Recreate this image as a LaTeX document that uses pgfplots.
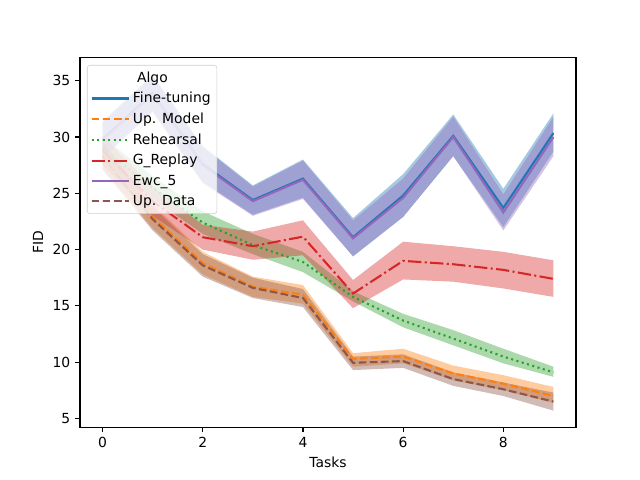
\documentclass[border=0pt]{standalone}
\usepackage{fontspec}
\setmainfont{DejaVu Sans}
\usepackage{pgfplots}
\pgfplotsset{compat=1.18}
\usepackage{pgfplotstable}
\usepgfplotslibrary{fillbetween}

\definecolor{c0}{HTML}{1F77B4}
\definecolor{c1}{HTML}{FF7F0E}
\definecolor{c2}{HTML}{2CA02C}
\definecolor{c3}{HTML}{D62728}
\definecolor{c4}{HTML}{9467BD}
\definecolor{c5}{HTML}{8C564B}

\pgfplotstableread{
x m lo hi
0 29.8 28.2 31.4
1 33.9 32.3 35.5
2 27.6 26.0 29.2
3 24.4 23.1 25.7
4 26.3 24.6 28.0
5 21.1 19.4 22.8
6 24.8 22.9 26.7
7 30.1 28.3 32.0
8 23.7 22.0 25.4
9 30.35 28.7 32.1
}\ft

\pgfplotstableread{
x m lo hi
0 28.4 27.2 29.6
1 22.9 21.9 24.0
2 18.8 17.8 19.8
3 16.7 15.8 17.6
4 16.0 15.2 16.85
5 10.3 9.6 10.8
6 10.5 9.9 11.2
7 9.0 8.4 9.7
8 8.1 7.5 8.85
9 7.0 6.4 7.8
}\um

\pgfplotstableread{
x m lo hi
0 29.0 28.0 30.0
1 25.5 24.5 26.5
2 22.4 21.4 23.4
3 20.4 19.6 21.4
4 18.9 18.0 19.8
5 15.8 15.4 16.3
6 13.7 13.1 14.3
7 12.1 11.5 12.85
8 10.5 9.9 11.2
9 9.1 8.7 9.6
}\rh

\pgfplotstableread{
x m lo hi
0 28.8 27.5 30.1
1 24.3 23.0 25.6
2 21.1 20.0 22.2
3 20.3 19.1 21.6
4 21.15 19.5 22.6
5 16.1 14.8 17.3
6 19.0 17.35 20.7
7 18.7 17.15 20.3
8 18.2 16.55 19.8
9 17.4 15.8 19.05
}\gr

\pgfplotstableread{
x m lo hi
0 29.7 28.1 31.3
1 33.8 32.2 35.4
2 27.5 25.9 29.1
3 24.3 23.0 25.6
4 26.2 24.5 27.9
5 21.0 19.4 22.6
6 24.6 22.9 26.3
7 30.0 28.3 31.8
8 23.3 21.7 24.9
9 30.0 28.3 31.8
}\ewc

\pgfplotstableread{
x m lo hi
0 28.3 27.1 29.5
1 22.7 21.7 23.8
2 18.6 17.6 19.6
3 16.6 15.7 17.5
4 15.7 14.9 16.5
5 9.95 9.3 10.5
6 10.1 9.5 10.7
7 8.5 7.9 9.1
8 7.6 7.0 8.2
9 6.5 5.7 7.3
}\ud

\begin{document}
\begin{tikzpicture}
\begin{axis}[
  at={(0,0)}, anchor=south west,
  scale only axis, width=357.12pt, height=266.11pt,
  xmin=-0.45, xmax=9.45, ymin=4.23, ymax=37.05,
  xtick={0,2,4,6,8}, ytick={5,10,15,20,25,30,35},
  tick align=outside, xtick pos=bottom, ytick pos=left,
  major tick length=3.5pt,
  every tick/.style={black, line width=0.8pt},
  axis line style={line width=0.8pt},
  /pgf/number format/assume math mode=true,
  ticklabel style={font=\fontsize{10}{12}\selectfont},
  label style={font=\fontsize{10}{12}\selectfont},
  xlabel={Tasks}, ylabel={FID},
  legend style={at={(0.014,0.98)}, anchor=north west, draw=black!20,
    rounded corners=2pt, fill=white, fill opacity=0.8, text opacity=1,
    draw opacity=1,
    font=\fontsize{10}{12}\selectfont, cells={anchor=west}, row sep=1.8pt,
    inner sep=2.5pt},
  legend image code/.code={\path (0cm,0cm) -- (0.7cm+7pt,0cm);\draw[mark repeat=2,mark phase=2] plot coordinates {(0cm,0cm) (0.35cm,0cm) (0.7cm,0cm)};},
]
% bands
\addplot[draw=none, name path=ftlo, forget plot] table[x=x,y=lo]{\ft};
\addplot[draw=none, name path=fthi, forget plot] table[x=x,y=hi]{\ft};
\addplot[fill=c0, fill opacity=0.4, draw=none, forget plot] fill between[of=fthi and ftlo];
\addplot[draw=none, name path=umlo, forget plot] table[x=x,y=lo]{\um};
\addplot[draw=none, name path=umhi, forget plot] table[x=x,y=hi]{\um};
\addplot[fill=c1, fill opacity=0.4, draw=none, forget plot] fill between[of=umhi and umlo];
\addplot[draw=none, name path=rhlo, forget plot] table[x=x,y=lo]{\rh};
\addplot[draw=none, name path=rhhi, forget plot] table[x=x,y=hi]{\rh};
\addplot[fill=c2, fill opacity=0.4, draw=none, forget plot] fill between[of=rhhi and rhlo];
\addplot[draw=none, name path=grlo, forget plot] table[x=x,y=lo]{\gr};
\addplot[draw=none, name path=grhi, forget plot] table[x=x,y=hi]{\gr};
\addplot[fill=c3, fill opacity=0.4, draw=none, forget plot] fill between[of=grhi and grlo];
\addplot[draw=none, name path=ewlo, forget plot] table[x=x,y=lo]{\ewc};
\addplot[draw=none, name path=ewhi, forget plot] table[x=x,y=hi]{\ewc};
\addplot[fill=c4, fill opacity=0.4, draw=none, forget plot] fill between[of=ewhi and ewlo];
\addplot[draw=none, name path=udlo, forget plot] table[x=x,y=lo]{\ud};
\addplot[draw=none, name path=udhi, forget plot] table[x=x,y=hi]{\ud};
\addplot[fill=c5, fill opacity=0.4, draw=none, forget plot] fill between[of=udhi and udlo];

% legend title
\addlegendimage{empty legend}
\addlegendentry{\hspace{3pt}Algo}
% lines
\addplot[c0, line width=1.5pt, no marks] table[x=x,y=m]{\ft};
\addlegendentry{Fine-tuning}
\addplot[c1, line width=1.5pt, no marks, dash pattern=on 5.55pt off 2.4pt] table[x=x,y=m]{\um};
\addlegendentry{Up. Model}
\addplot[c2, line width=1.5pt, no marks, dash pattern=on 1.5pt off 2.475pt] table[x=x,y=m]{\rh};
\addlegendentry{Rehearsal}
\addplot[c3, line width=1.5pt, no marks, dash pattern=on 9.6pt off 2.4pt on 1.5pt off 2.4pt] table[x=x,y=m]{\gr};
\addlegendentry{G\_Replay}
\addplot[c4, line width=1.5pt, no marks] table[x=x,y=m]{\ewc};
\addlegendentry{Ewc\_5}
\addplot[c5, line width=1.5pt, no marks, dash pattern=on 5.55pt off 2.4pt] table[x=x,y=m]{\ud};
\addlegendentry{Up. Data}
\end{axis}
\pgfresetboundingbox
\useasboundingbox (-57.6pt,-38.016pt) rectangle (403.2pt,307.584pt);
\end{tikzpicture}
\end{document}
